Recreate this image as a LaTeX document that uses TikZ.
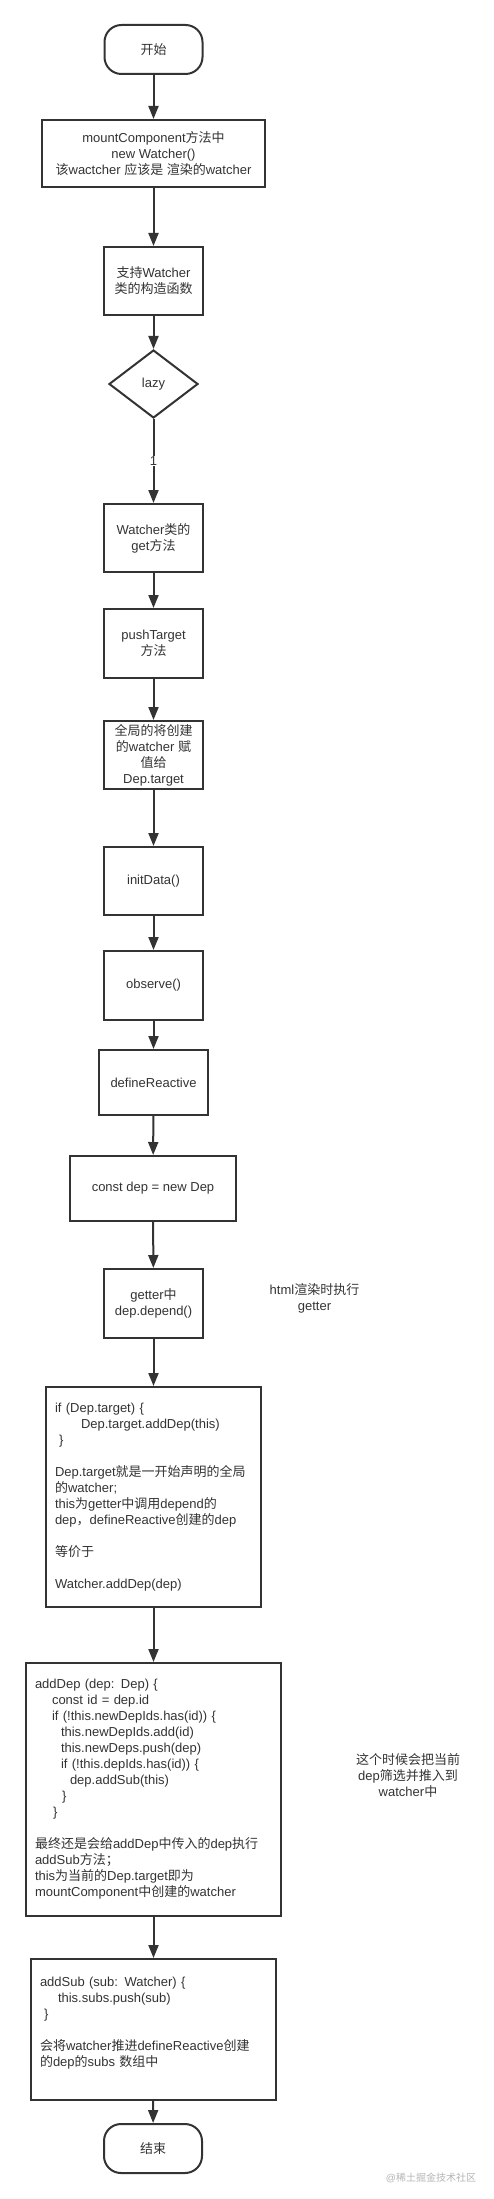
\documentclass[tikz,border=0pt]{standalone}
\usepackage{fontspec}
\setmainfont{Liberation Sans}
\newfontfamily\cjkfont{Noto Sans CJK SC}
\newcommand\zh[1]{{\cjkfont #1}}
\newcommand\fs{\fontsize{13}{16}\selectfont}
\usetikzlibrary{shapes.geometric,arrows.meta}
\definecolor{ink}{HTML}{333333}
\definecolor{wm}{HTML}{B4B4B4}
\begin{document}
\begin{tikzpicture}[x=1pt,y=-1pt,
  box/.style={draw=ink, line width=2pt, fill=white, text=ink, font=\fs, align=center, inner sep=2pt},
  term/.style={box, rounded corners=17pt, minimum width=98pt, minimum height=49pt},
  stdbox/.style={box, minimum width=99pt, minimum height=68pt},
  codebox/.style={box, align=left, inner xsep=9pt},
  dec/.style={box, shape=diamond, inner sep=0pt},
  note/.style={text=ink, font=\fs, align=center},
  arr/.style={draw=ink, line width=2pt, -{Triangle[length=13pt,width=10pt]}}]
\useasboundingbox (0,0) rectangle (493,2199);

\node[term] (start) at (153.5,49.5) {\zh{开始}};
\node[box, minimum width=223pt, minimum height=67pt] (mount) at (153.5,153.5)
  {mountComponent\zh{方法中}\\new Watcher()\\\zh{该}wactcher \zh{应该是} \zh{渲染的}watcher};
\node[stdbox] (ctor) at (153.5,281) {\zh{支持}Watcher\\\zh{类的构造函数}};
\node[dec, minimum width=89pt, minimum height=68pt] (lazy) at (153.5,384) {lazy};
\node[stdbox] (get) at (153.5,538) {Watcher\zh{类的}\\get\zh{方法}};
\node[stdbox, minimum height=69pt] (push) at (153.5,643.5) {pushTarget\\\zh{方法}};
\node[stdbox] (glob) at (153.5,755) {\zh{全局的将创建}\\\zh{的}watcher \zh{赋}\\\zh{值给}\\Dep.target};
\node[stdbox] (init) at (153.5,881) {initData()};
\node[stdbox, minimum height=69pt] (obs) at (153.5,985.5) {observe()};
\node[box, minimum width=109pt, minimum height=65pt] (defr) at (153.5,1082.5) {defineReactive};
\node[box, minimum width=166pt, minimum height=65pt] (cdep) at (153,1188.5) {const dep = new Dep};
\node[stdbox, minimum height=69pt] (getter) at (153.5,1303.5) {getter\zh{中}\\dep.depend()};
\node[note] (note1) at (314.5,1298) {html\zh{渲染时执行}\\getter};

\node[codebox, text width=197pt, minimum height=220pt] (big1) at (153.5,1497)
  {if (Dep.target) \{\\
   \hspace*{26pt}Dep.target.addDep(this)\\
   \hspace*{4pt}\}\\[16pt]
   Dep.target\zh{就是一开始声明的全局}\\
   \zh{的}watcher;\\
   this\zh{为}getter\zh{中调用}depend\zh{的}\\
   dep\zh{，}defineReactive\zh{创建的}dep\\[16pt]
   \zh{等价于}\\[16pt]
   Watcher.addDep(dep)};

\node[codebox, text width=237pt, minimum height=253pt] (big2) at (153.5,1789.5)
  {addDep (dep: Dep) \{\\
   \hspace*{17pt}const id = dep.id\\
   \hspace*{17pt}if (!this.newDepIds.has(id)) \{\\
   \hspace*{26pt}this.newDepIds.add(id)\\
   \hspace*{26pt}this.newDeps.push(dep)\\
   \hspace*{26pt}if (!this.depIds.has(id)) \{\\
   \hspace*{35pt}dep.addSub(this)\\
   \hspace*{27pt}\}\\
   \hspace*{18pt}\}\\[16pt]
   \zh{最终还是会给}addDep\zh{中传入的}dep\zh{执行}\\
   addSub\zh{方法；}\\
   this\zh{为当前的}Dep.target\zh{即为}\\
   mountComponent\zh{中创建的}watcher};
\node[note] (note2) at (408,1775) {\zh{这个时候会把当前}\\dep\zh{筛选并推入到}\\watcher\zh{中}};

\node[codebox, text width=227pt, minimum height=141pt] (big3) at (153.5,2029.5)
  {addSub (sub: Watcher) \{\\
   \hspace*{18pt}this.subs.push(sub)\\
   \hspace*{4pt}\}\\[16pt]
   \zh{会将}watcher\zh{推进}defineReactive\zh{创建}\\
   \zh{的}dep\zh{的}subs \zh{数组中}\\
   \mbox{}};
\node[term] (end) at (153,2148.5) {\zh{结束}};

\node[text=wm, font=\fontsize{10}{12}\selectfont] (wmark) at (431,2178) {@\zh{稀土掘金技术社区}};

\draw[arr] (start) -- (mount);
\draw[arr] (mount) -- (ctor);
\draw[arr] (ctor) -- (lazy);
\draw[arr] (lazy) -- node[fill=white, text=ink, font=\fs, inner sep=1pt] {1} (get);
\draw[arr] (get) -- (push);
\draw[arr] (push) -- (glob);
\draw[arr] (glob) -- (init);
\draw[arr] (init) -- (obs);
\draw[arr] (obs) -- (defr);
\draw[arr] (defr) -- (cdep);
\draw[arr] (cdep) -- (getter);
\draw[arr] (getter) -- (big1);
\draw[arr] (big1) -- (big2);
\draw[arr] (big2) -- (big3);
\draw[arr] (big3) -- (end);
\end{tikzpicture}
\end{document}
